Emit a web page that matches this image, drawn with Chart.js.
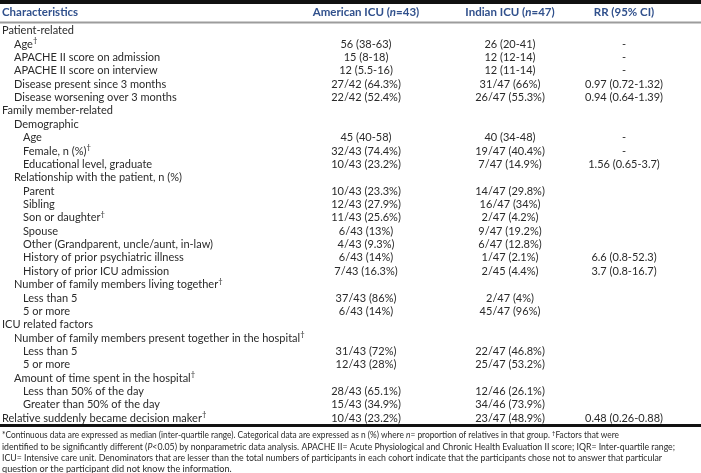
<!DOCTYPE html>
<html>
<head>
<meta charset="utf-8">
<script src="https://cdn.jsdelivr.net/npm/chart.js@4"></script>
<style>
  html, body { margin: 0; padding: 0; background: #ffffff; overflow: hidden; width: 701px; height: 473px; }
  canvas { display: block; }
</style>
</head>
<body>
<canvas id="c" width="701" height="473" style="width:701px;height:473px"></canvas>
<script>
// ---------- DATA ----------
const categories = [
  'Patient-related',
  'Age†',
  'APACHE II score on admission',
  'APACHE II score on interview',
  'Disease present since 3 months',
  'Disease worsening over 3 months',
  'Family member-related',
  'Demographic',
  'Age',
  'Female, n (%)†',
  'Educational level, graduate',
  'Relationship with the patient, n (%)',
  'Parent',
  'Sibling',
  'Son or daughter†',
  'Spouse',
  'Other (Grandparent, uncle/aunt, in-law)',
  'History of prior psychiatric illness',
  'History of prior ICU admission',
  'Number of family members living together†',
  'Less than 5',
  '5 or more',
  'ICU related factors',
  'Number of family members present together in the hospital†',
  'Less than 5',
  '5 or more',
  'Amount of time spent in the hospital†',
  'Less than 50% of the day',
  'Greater than 50% of the day',
  'Relative suddenly became decision maker†'
];
const levels = [0,1,1,1,1,1,0,1,2,2,2,1,2,2,2,2,2,2,2,1,2,2,0,1,2,2,1,2,2,0];

const americanICU = ['', '56 (38-63)', '15 (8-18)', '12 (5.5-16)', '27/42 (64.3%)', '22/42 (52.4%)',
  '', '', '45 (40-58)', '32/43 (74.4%)', '10/43 (23.2%)', '', '10/43 (23.3%)', '12/43 (27.9%)',
  '11/43 (25.6%)', '6/43 (13%)', '4/43 (9.3%)', '6/43 (14%)', '7/43 (16.3%)', '', '37/43 (86%)',
  '6/43 (14%)', '', '', '31/43 (72%)', '12/43 (28%)', '', '28/43 (65.1%)', '15/43 (34.9%)', '10/43 (23.2%)'];
const indianICU = ['', '26 (20-41)', '12 (12-14)', '12 (11-14)', '31/47 (66%)', '26/47 (55.3%)',
  '', '', '40 (34-48)', '19/47 (40.4%)', '7/47 (14.9%)', '', '14/47 (29.8%)', '16/47 (34%)',
  '2/47 (4.2%)', '9/47 (19.2%)', '6/47 (12.8%)', '1/47 (2.1%)', '2/45 (4.4%)', '', '2/47 (4%)',
  '45/47 (96%)', '', '', '22/47 (46.8%)', '25/47 (53.2%)', '', '12/46 (26.1%)', '34/46 (73.9%)', '23/47 (48.9%)'];
const rrCI = ['', '-', '-', '-', '0.97 (0.72-1.32)', '0.94 (0.64-1.39)', '', '', '-', '-',
  '1.56 (0.65-3.7)', '', '', '', '', '', '', '6.6 (0.8-52.3)', '3.7 (0.8-16.7)', '', '', '', '', '',
  '', '', '', '', '', '0.48 (0.26-0.88)'];

const headers = ['Characteristics', 'American ICU (n=43)', 'Indian ICU (n=47)', 'RR (95% CI)'];

const footnotes = [
  [['*Continuous data are expressed as median (inter-quartile range). Categorical data are expressed as n (%) where ', 0], ['n', 1], ['= proportion of relatives in that group. ', 0], ['†', 2], ['Factors that were', 0]],
  [['identified to be significantly different (', 0], ['P', 1], ['<0.05) by nonparametric data analysis. APACHE II= Acute Physiological and Chronic Health Evaluation II score; IQR= Inter-quartile range;', 0]],
  [['ICU= Intensive care unit. Denominators that are lesser than the total numbers of participants in each cohort indicate that the participants chose not to answer that particular', 0]],
  [['question or the participant did not know the information.', 0]]
];

// ---------- LAYOUT / STYLE ----------
const FONT = 'Lato, "Open Sans", sans-serif';
const TEXT = '#2a2a2a';
const BLUE = '#30508c';
const colX = { american: 366, indian: 510, rr: 624 };
const indentX = [2, 14, 23];
const footTargets = [617, 673, 660, null];

function pts(values, x) {
  return values.map((v, i) => ({ x: x, y: i, label: v })).filter(p => p.label !== '');
}

function setFont(ctx, s, size, w) {
  ctx.font = (s === 1 ? 'italic ' : '') + (w || 'normal') + ' ' + (s === 2 ? size * 0.7 : size) + 'px ' + FONT;
}

function drawRuns(ctx, runs, x, y, size, color, align, weight) {
  // runs: [text, style] style 0 normal, 1 italic, 2 superscript
  const widths = runs.map(([t, s]) => { setFont(ctx, s, size, weight); return ctx.measureText(t).width; });
  const total = widths.reduce((a, b) => a + b, 0);
  let cx = align === 'center' ? x - total / 2 : x;
  ctx.fillStyle = color;
  ctx.textBaseline = 'middle';
  ctx.textAlign = 'left';
  runs.forEach(([t, s], k) => {
    setFont(ctx, s, size, weight);
    ctx.fillText(t, cx, s === 2 ? y - size * 0.3 : y);
    cx += widths[k];
  });
  return total;
}

function labelRuns(str) {
  const parts = str.split('†');
  const runs = [];
  parts.forEach((p, k) => {
    if (p) runs.push([p, 0]);
    if (k < parts.length - 1) runs.push(['†', 2]);
  });
  return runs;
}

const tablePlugin = {
  id: 'tablePlugin',
  afterDatasetsDraw(chart) {
    const ctx = chart.ctx;
    const xs = chart.scales.x, ys = chart.scales.y;
    const area = chart.chartArea;
    ctx.save();
    // top black band
    ctx.fillStyle = '#111111';
    ctx.fillRect(0, 0, chart.width, 4);
    // header row
    const hy = area.top - 11.5;
    drawRuns(ctx, [[headers[0], 0]], xs.getPixelForValue(indentX[0]), hy, 11.5, BLUE, 'left', 'bold');
    drawRuns(ctx, [['American ICU (', 0], ['n', 1], ['=43)', 0]], xs.getPixelForValue(colX.american), hy, 11.5, BLUE, 'center', 'bold');
    drawRuns(ctx, [['Indian ICU (', 0], ['n', 1], ['=47)', 0]], xs.getPixelForValue(colX.indian), hy, 11.5, BLUE, 'center', 'bold');
    drawRuns(ctx, [[headers[3], 0]], xs.getPixelForValue(colX.rr), hy, 11.5, BLUE, 'center', 'bold');
    // header rule
    ctx.fillStyle = '#9c9c9c';
    ctx.fillRect(0, area.top - 2.5, chart.width, 2);
    // row labels
    categories.forEach((c, i) => {
      drawRuns(ctx, labelRuns(c), xs.getPixelForValue(indentX[levels[i]]), ys.getPixelForValue(i), 11, TEXT, 'left');
    });
    // data cells from dataset elements
    chart.data.datasets.forEach((ds, di) => {
      const meta = chart.getDatasetMeta(di);
      meta.data.forEach((el, j) => {
        drawRuns(ctx, [[ds.data[j].label, 0]], el.x, el.y, 11, TEXT, 'center');
      });
    });
    // bottom rule
    ctx.fillStyle = '#111111';
    ctx.fillRect(0, area.bottom - 1, chart.width, 3);
    // footnotes
    const fy0 = area.bottom + 10.5;
    footnotes.forEach((runs, k) => {
      const y = fy0 + k * 11.1;
      ctx.save();
      const size = 9.2;
      let total = 0;
      runs.forEach(([t, s]) => { setFont(ctx, s, size); total += ctx.measureText(t).width; });
      const target = footTargets[k];
      const sx = target ? target / total : 1;
      ctx.translate(2, 0);
      ctx.scale(sx, 1);
      drawRuns(ctx, runs, 0, y, size, TEXT, 'left');
      ctx.restore();
    });
    ctx.restore();
  }
};

new Chart(document.getElementById('c'), {
  type: 'scatter',
  data: {
    datasets: [
      { label: 'American ICU', data: pts(americanICU, colX.american), pointRadius: 0 },
      { label: 'Indian ICU', data: pts(indianICU, colX.indian), pointRadius: 0 },
      { label: 'RR (95% CI)', data: pts(rrCI, colX.rr), pointRadius: 0 }
    ]
  },
  options: {
    responsive: false,
    animation: false,
    events: [],
    layout: { padding: { top: 24, bottom: 48, left: 0, right: 0 } },
    plugins: { legend: { display: false }, tooltip: { enabled: false } },
    scales: {
      x: { type: 'linear', min: 0, max: 701, display: false },
      y: { type: 'linear', min: -0.5, max: categories.length - 0.5, reverse: true, display: false }
    }
  },
  plugins: [tablePlugin]
});
</script>
</body>
</html>
